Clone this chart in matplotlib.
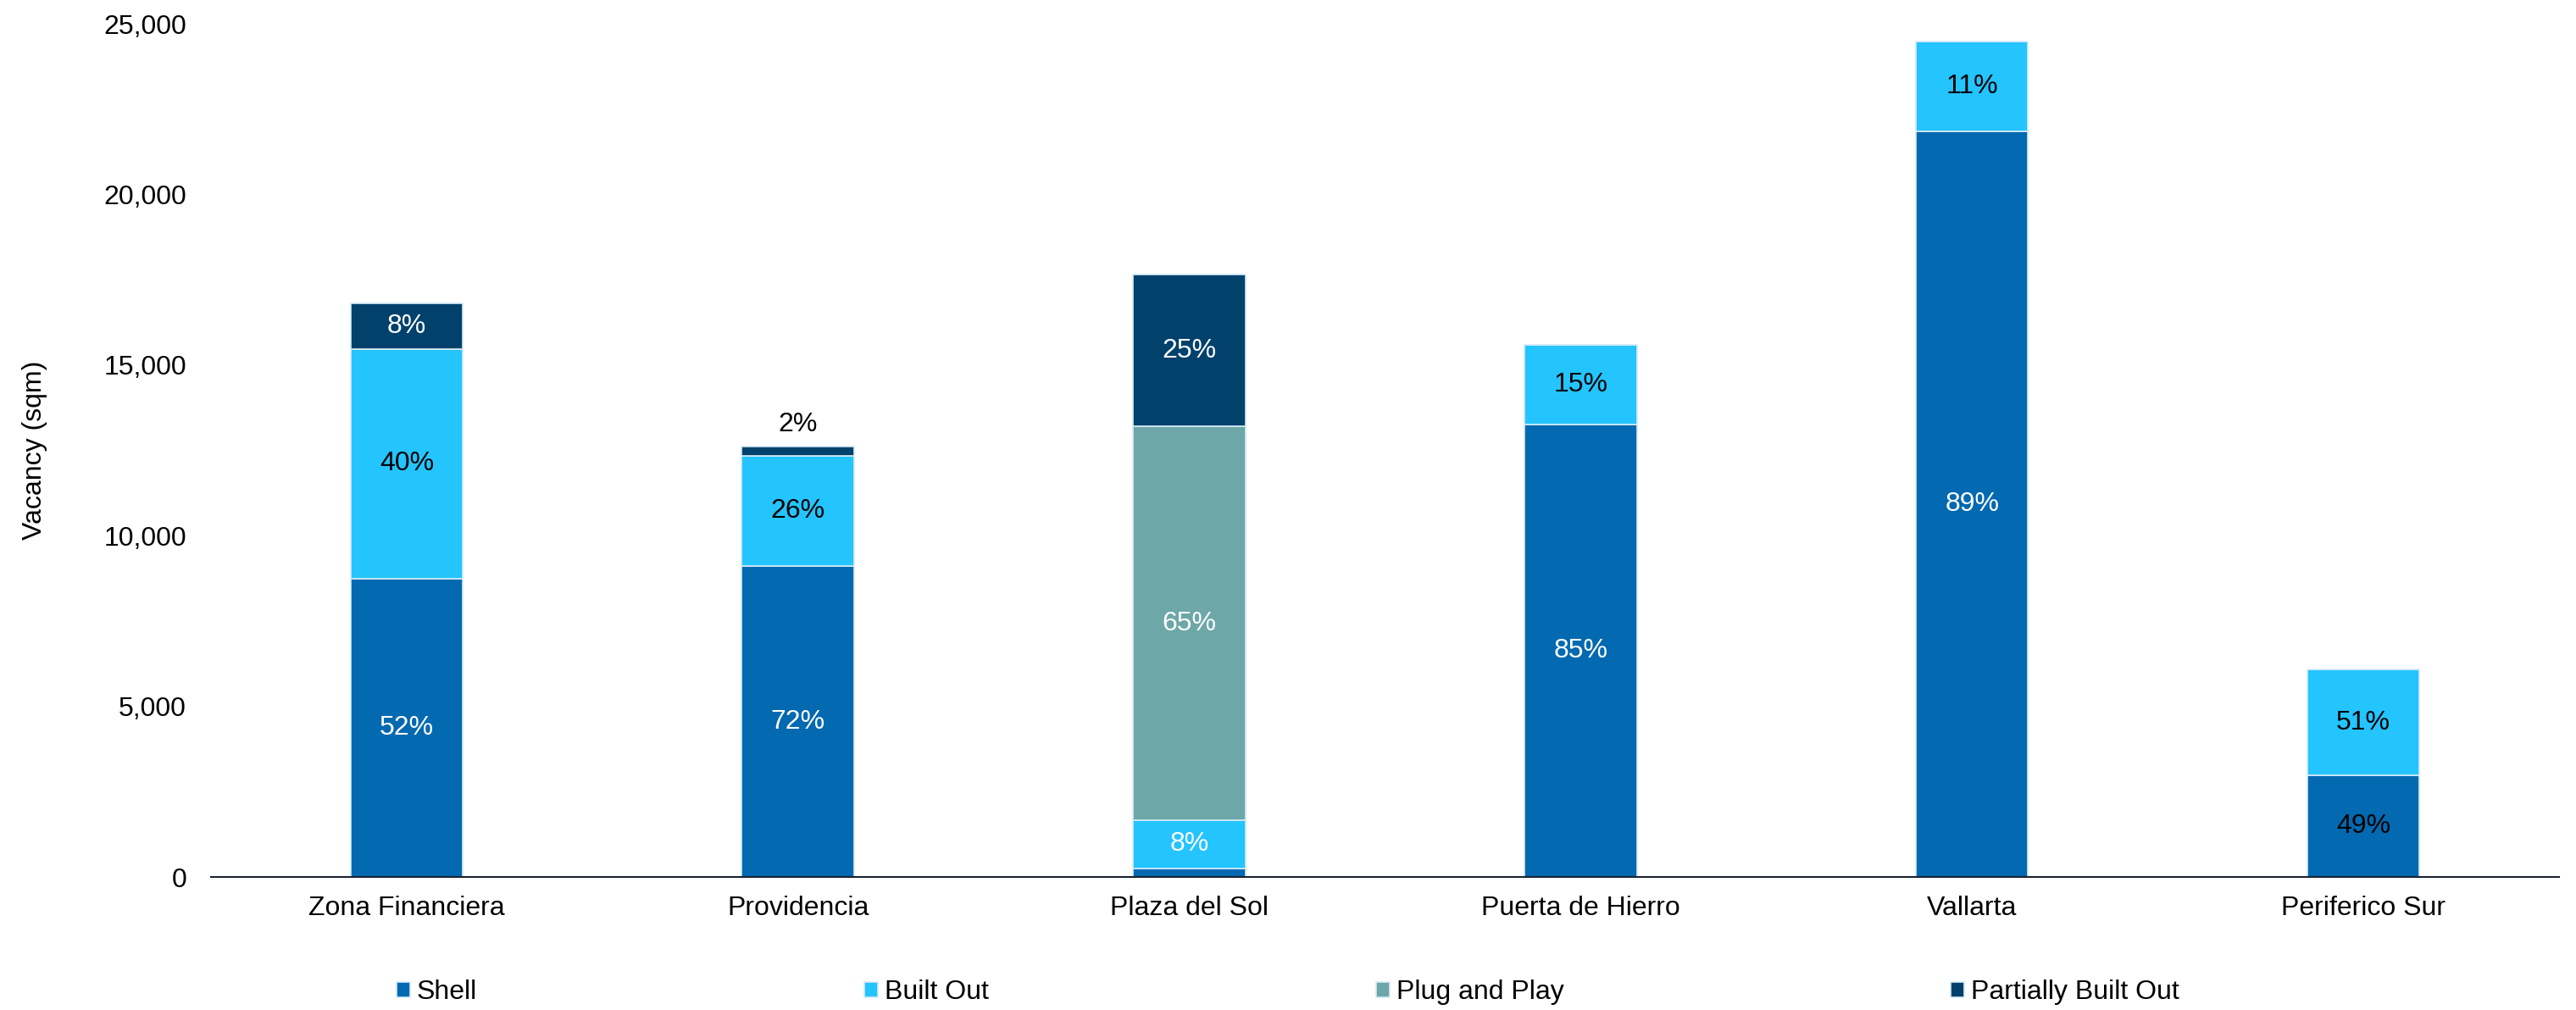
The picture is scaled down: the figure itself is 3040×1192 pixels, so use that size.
import numpy as np
import matplotlib.pyplot as plt
from matplotlib.ticker import FuncFormatter

plt.rcParams['font.family'] = ['Liberation Sans', 'DejaVu Sans']

# Vacancy by submarket, split by fit-out condition (sqm)
submarkets = ['Zona Financiera', 'Providencia', 'Plaza del Sol',
              'Puerta de Hierro', 'Vallarta', 'Periferico Sur']
shell = [8740, 9100, 260, 13250, 21850, 2980]
built_out = [6730, 3250, 1400, 2350, 2620, 3100]
plug_and_play = [0, 0, 11550, 0, 0, 0]
partially_built_out = [1350, 250, 4430, 0, 0, 0]

series = [
    ('Shell', shell, '#0369B1', 'white'),
    ('Built Out', built_out, '#24C4FF', 'black'),
    ('Plug and Play', plug_and_play, '#6EA7A8', 'white'),
    ('Partially Built Out', partially_built_out, '#01416C', 'white'),
]
# a few labels use a different text colour
label_color_override = {
    ('Built Out', 'Plaza del Sol'): 'white',
    ('Shell', 'Periferico Sur'): 'black',
    ('Partially Built Out', 'Providencia'): 'black',
}

fs = 11.5
fig = plt.figure(figsize=(15.2, 5.96), dpi=200)
ax = fig.add_axes([0.0819, 0.1317, 0.9115, 0.8448])

x = np.arange(len(submarkets))
width = 0.287
totals = np.sum([s[1] for s in series], axis=0)
bottom = np.zeros(len(submarkets))

for name, vals, color, txt_color in series:
    vals = np.array(vals, dtype=float)
    ax.bar(x, vals, width, bottom=bottom, color=color, label=name,
           edgecolor='#d6ebf7', linewidth=0.6, zorder=2)
    for i, v in enumerate(vals):
        if v <= 0:
            continue
        pct = v / totals[i] * 100
        if pct < 1.5:
            continue
        c = label_color_override.get((name, submarkets[i]), txt_color)
        if pct < 4:
            # too thin to hold the label, put it above the bar
            ax.annotate(f'{pct:.0f}%', (x[i], bottom[i] + v), xytext=(0, 4),
                        textcoords='offset points', ha='center', va='bottom',
                        fontsize=fs, color=c)
        else:
            ax.text(x[i], bottom[i] + v / 2, f'{pct:.0f}%', ha='center',
                    va='center', fontsize=fs, color=c)
    bottom += vals

ax.set_xlim(-0.5, len(submarkets) - 0.5)
ax.set_ylim(0, 25000)
ax.set_yticks(np.arange(0, 25001, 5000))
ax.yaxis.set_major_formatter(FuncFormatter(lambda v, p: f'{v:,.0f}'))
ax.set_xticks(x)
ax.set_xticklabels(submarkets)
ax.tick_params(axis='y', length=0, pad=10.4, labelsize=fs)
ax.tick_params(axis='x', length=0, pad=8, labelsize=fs)

for side in ['left', 'right', 'top']:
    ax.spines[side].set_visible(False)
ax.spines['bottom'].set_color('#1B2230')
ax.spines['bottom'].set_linewidth(0.75)
ax.spines['bottom'].set_zorder(3)

fig.text(0.0135, 0.1317 + 0.8448 / 2, 'Vacancy (sqm)', rotation=90,
         ha='center', va='center', fontsize=fs)

handles, labels = ax.get_legend_handles_labels()
fig.legend(handles, labels, loc='center', bbox_to_anchor=(0.5, 0.0176),
           ncol=4, frameon=False, fontsize=fs, handlelength=0.5,
           handleheight=0.5, handletextpad=0.25, columnspacing=14.3,
           borderaxespad=0, borderpad=0)

plt.savefig('out.png', dpi=200)
